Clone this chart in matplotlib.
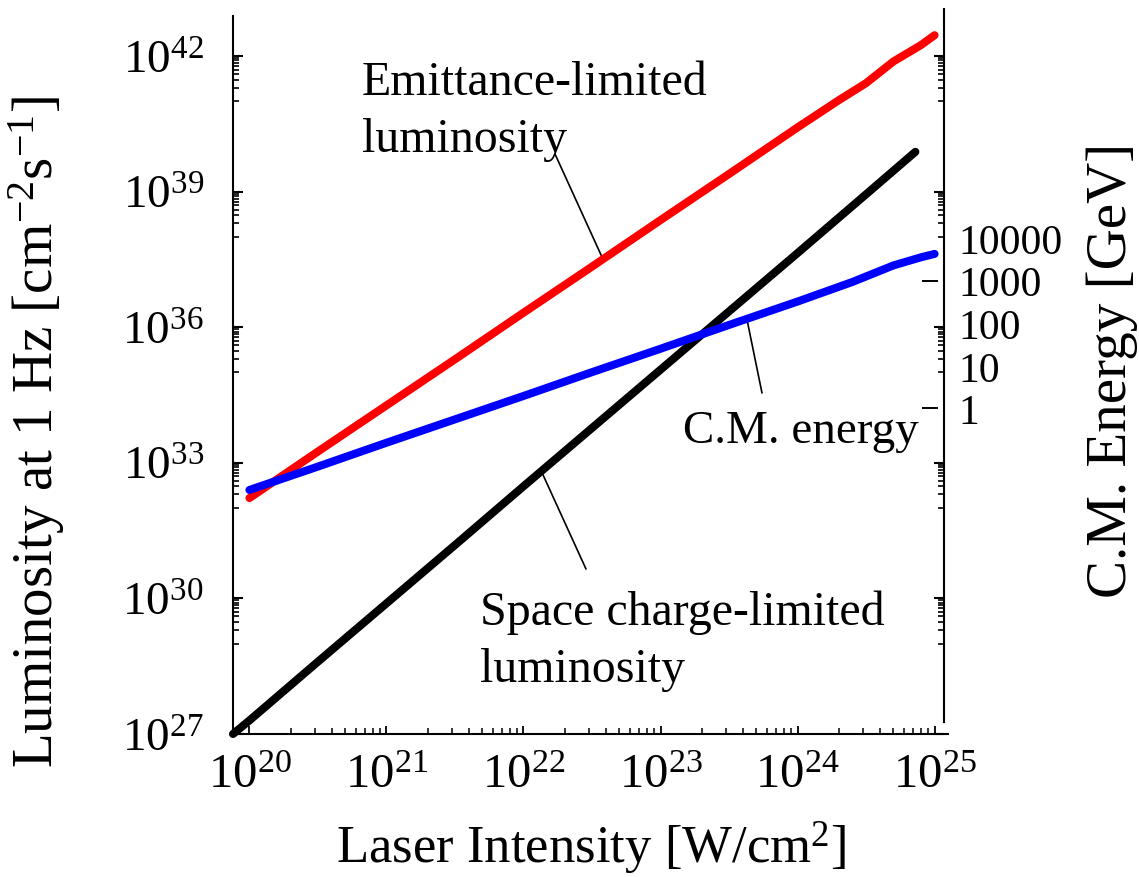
import numpy as np
import matplotlib
matplotlib.use("Agg")
import matplotlib.pyplot as plt
from matplotlib.ticker import FixedLocator, NullFormatter, FuncFormatter
from matplotlib.transforms import blended_transform_factory

plt.rcParams['font.family'] = ['Liberation Serif', 'DejaVu Serif']
plt.rcParams['mathtext.fontset'] = 'stix'

# ---------------- data ----------------
# Emittance-limited luminosity [cm^-2 s^-1] vs laser intensity [W/cm^2]
red_I = [1e20, 10**20.5, 1e21, 10**21.5, 1e22, 10**22.5, 1e23, 10**23.5,
         1e24, 10**24.3, 10**24.5, 10**24.7, 10**24.9, 1e25]
red_L = [10**32.22, 10**33.25, 10**34.27, 10**35.29, 10**36.32, 10**37.34,
         10**38.37, 10**39.39, 10**40.42, 10**41.02, 10**41.40, 10**41.88,
         10**42.24, 10**42.46]

# Space charge-limited luminosity
blk_I = [10**19.88, 1e20, 10**20.5, 1e21, 10**21.5, 1e22, 10**22.5, 1e23,
         10**23.5, 1e24, 10**24.5, 10**24.86]
blk_L = [1e27, 10**27.30, 10**28.60, 10**29.89, 10**31.18, 10**32.48,
         10**33.77, 10**35.06, 10**36.35, 10**37.64, 10**38.94, 10**39.88]

# C.M. energy [GeV] (right axis)
blu_I = [1e20, 10**20.5, 1e21, 10**21.5, 1e22, 10**22.5, 1e23, 10**23.5,
         1e24, 10**24.4, 10**24.7, 10**24.9, 1e25]
blu_E = [10**-1.92, 10**-1.37, 10**-0.81, 10**-0.26, 10**0.29, 10**0.85,
         10**1.40, 10**1.96, 10**2.51, 10**2.97, 10**3.36, 10**3.55, 10**3.63]

x_ticks = [1e20, 1e21, 1e22, 1e23, 1e24, 1e25]
y_ticks = [1e27, 1e30, 1e33, 1e36, 1e39, 1e42]
e_ticks = [1, 10, 100, 1000, 10000]
e_tick_labels = ['1', '10', '100', '1000', '10000']
e_marked = [1, 1000]

W, H = 1139, 878
fig = plt.figure(figsize=(W / 100, H / 100), dpi=100)

def fx(px):
    return px / W

def fy(py):
    return 1 - py / H

ax = fig.add_axes([fx(233), fy(735), fx(948) - fx(233), fy(17) - fy(735)])
ax.set_xscale('log')
ax.set_yscale('log')
ax.set_xlim(10**19.88, 10**25.098)
ax.set_ylim(1e27, 10**42.885)

for side in ['left', 'bottom', 'right']:
    ax.spines[side].set_linewidth(1.5)
ax.spines['top'].set_visible(False)
ax.spines['right'].set_position(('axes', (944 - 233) / 715))
ax.spines['right'].set_bounds(10**27.265, 10**43.04)

lw = 5.8
ax.plot(blk_I, blk_L, color='black', lw=lw, solid_capstyle='round', zorder=3, clip_on=False)
ax.plot(red_I, red_L, color='#ff0000', lw=lw, solid_capstyle='round', zorder=3, clip_on=False)

ax2 = ax.twinx()
ax2.set_yscale('log')
ax2.set_ylim(10**-7.658, 10**9.224)
for side in ['left', 'bottom', 'right', 'top']:
    ax2.spines[side].set_visible(False)
ax2.spines['right'].set_position(('axes', (944 - 233) / 715))
ax2.plot(blu_I, blu_E, color='#0000ff', lw=lw, solid_capstyle='round', zorder=3, clip_on=False)

# x ticks
ax.xaxis.set_major_locator(FixedLocator(x_ticks))
ax.xaxis.set_minor_locator(FixedLocator([k * 10.0**n for n in range(20, 25) for k in range(2, 10)]))
ax.xaxis.set_major_formatter(FuncFormatter(lambda v, p: r'$\mathregular{10^{%d}}$' % round(np.log10(v))))
ax.xaxis.set_minor_formatter(NullFormatter())
ax.tick_params(axis='x', which='major', direction='in', length=6, width=1.3, labelsize=35, pad=14)
ax.tick_params(axis='x', which='minor', direction='in', length=4, width=1.1)

# y ticks (left, mirrored on right spine)
ax.yaxis.set_major_locator(FixedLocator(y_ticks))
ax.yaxis.set_minor_locator(FixedLocator([k * 10.0**(round(np.log10(t)) - 1)
                                         for t in y_ticks[1:] for k in range(1, 10)]))
ax.yaxis.set_major_formatter(FuncFormatter(lambda v, p: r'$\mathregular{10^{%d}}$' % round(np.log10(v))))
ax.yaxis.set_minor_formatter(NullFormatter())
ax.tick_params(axis='y', which='major', direction='in', length=7, width=1.5,
               labelsize=34, pad=21, right=True, labelright=False)
ax.tick_params(axis='y', which='minor', direction='in', length=4.5, width=1.2, right=True)

# right energy axis labels
ax2.yaxis.set_major_locator(FixedLocator(e_ticks))
ax2.yaxis.set_minor_locator(FixedLocator([]))
ax2.set_yticklabels(e_tick_labels)
ax2.tick_params(axis='y', which='major', length=0, labelsize=30, pad=10)
tr = blended_transform_factory(ax2.transAxes, ax2.transData)
x0 = (922 - 233) / 715
x1 = (938 - 233) / 715
ax2.hlines(e_marked, x0, x1, transform=tr, color='black', lw=1.4, clip_on=False)

# axis labels
fig.text(fx(591), fy(848), r'Laser Intensity [W/cm$\mathregular{^2}$]', fontsize=38,
         ha='center', va='center')
fig.text(fx(37), fy(432), r'Luminosity at 1 Hz [cm$\mathregular{^{-2}}$s$\mathregular{^{-1}}$]',
         fontsize=41, rotation=90, ha='center', va='center')
fig.text(fx(1112), fy(370), 'C.M. Energy [GeV]', fontsize=41, rotation=90,
         ha='center', va='center')

# annotations
tsize = 34.5
fig.text(fx(362), fy(95), 'Emittance-limited', fontsize=tsize, ha='left', va='baseline')
fig.text(fx(362), fy(152), 'luminosity', fontsize=tsize, ha='left', va='baseline')
fig.text(fx(683), fy(443), 'C.M. energy', fontsize=33.8, ha='left', va='baseline')
fig.text(fx(480), fy(625), 'Space charge-limited', fontsize=tsize, ha='left', va='baseline')
fig.text(fx(480), fy(682), 'luminosity', fontsize=tsize, ha='left', va='baseline')

def on_curve(xs, ys, xv):
    return 10 ** np.interp(np.log10(xv), np.log10(xs), np.log10(ys))

lead = dict(arrowstyle='-', color='black', lw=1.2, shrinkA=0, shrinkB=0)
xr = 10 ** 22.58
ax.annotate('', xy=(xr, on_curve(red_I, red_L, xr)), xycoords='data',
            xytext=(fx(555), fy(155)), textcoords='figure fraction', arrowprops=lead, zorder=2)
xb = 10 ** 22.13
ax.annotate('', xy=(xb, on_curve(blk_I, blk_L, xb)), xycoords='data',
            xytext=(fx(586), fy(570)), textcoords='figure fraction', arrowprops=lead, zorder=2)
xe = 10 ** 23.63
ax2.annotate('', xy=(xe, on_curve(blu_I, blu_E, xe)), xycoords='data',
             xytext=(fx(762), fy(394)), textcoords='figure fraction', arrowprops=lead, zorder=2)

fig.savefig('out.png', dpi=100)
